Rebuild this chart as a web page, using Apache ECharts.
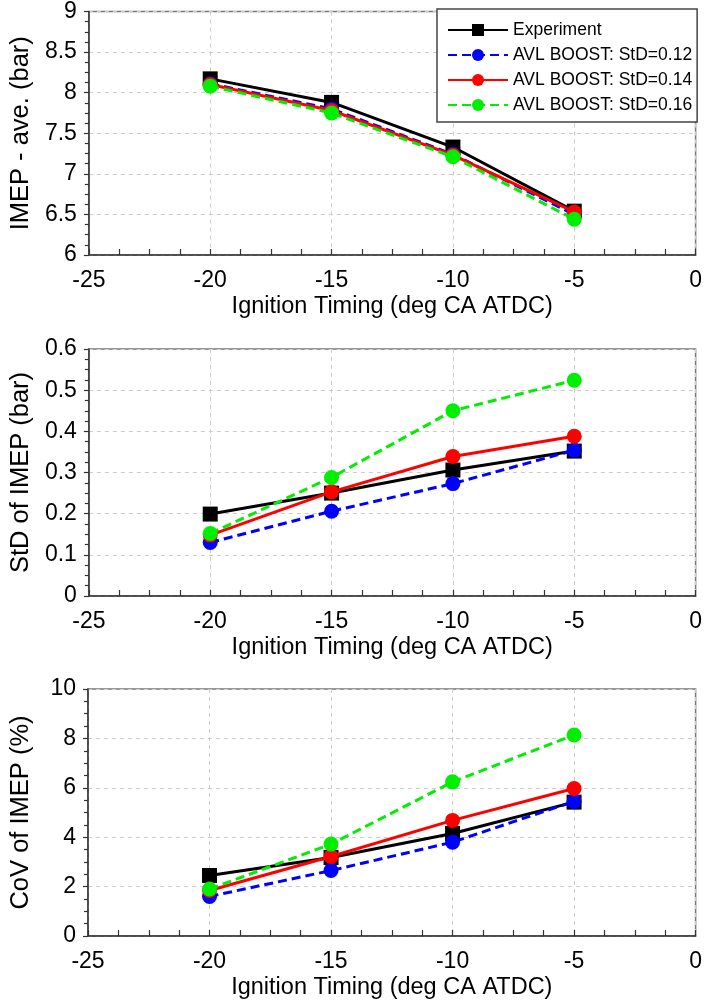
<!DOCTYPE html>
<html>
<head>
<meta charset="utf-8">
<script src="https://cdn.jsdelivr.net/npm/echarts@6/dist/echarts.min.js"></script>
<style>html,body{margin:0;padding:0;background:#fff;}#c{width:705px;height:1001px;}</style>
</head>
<body>
<div id="c"></div>
<script>
const timing = [-20, -15, -10, -5];
const seriesNames = ['Experiment', 'AVL BOOST: StD=0.12', 'AVL BOOST: StD=0.14', 'AVL BOOST: StD=0.16'];

// IMEP average (bar)
const imepExp  = [8.17, 7.88, 7.33, 6.54];
const imep012  = [8.11, 7.80, 7.24, 6.50];
const imep014  = [8.10, 7.78, 7.23, 6.53];
const imep016  = [8.08, 7.75, 7.21, 6.44];

// StD of IMEP (bar)
const stdExp = [0.199, 0.250, 0.306, 0.352];
const std012 = [0.130, 0.206, 0.273, 0.354];
const std014 = [0.148, 0.253, 0.339, 0.388];
const std016 = [0.152, 0.288, 0.450, 0.524];

// CoV of IMEP (%)
const covExp = [2.45, 3.18, 4.15, 5.42];
const cov012 = [1.60, 2.65, 3.80, 5.45];
const cov014 = [1.84, 3.22, 4.68, 5.97];
const cov016 = [1.90, 3.72, 6.24, 8.14];

const xTicks = [-25, -20, -15, -10, -5, 0];
const yTitles = ['IMEP - ave. (bar)', 'StD of IMEP (bar)', 'CoV of IMEP (%)'];
const xTitle = 'Ignition Timing (deg CA ATDC)';

const FONT = 'Liberation Sans, Arial, sans-serif';
const styles = [
  {color: '#000000', symbol: 'rect', line: 'solid', size: 15},
  {color: '#0000ff', symbol: 'circle', line: [9, 5], size: 15},
  {color: '#ff0000', symbol: 'circle', line: 'solid', size: 15},
  {color: '#00ee00', symbol: 'circle', line: [9, 5], size: 15}
];
const panels = [
  {data: [imepExp, imep012, imep014, imep016], min: 6, max: 9, interval: 0.5, top: 8},
  {data: [stdExp, std012, std014, std016], min: 0, max: 0.6, interval: 0.1, top: 349},
  {data: [covExp, cov012, cov014, cov016], min: 0, max: 10, interval: 2, top: 689}
];

const grids = [], xAxes = [], yAxes = [], series = [];
panels.forEach((p, i) => {
  grids.push({left: 83, right: 6, top: p.top, height: 247, show: true, borderColor: '#777', borderWidth: 1.5, backgroundColor: 'transparent'});
  xAxes.push({
    type: 'value', gridIndex: i, min: xTicks[0], max: xTicks[xTicks.length - 1], interval: 5,
    name: xTitle, nameLocation: 'middle', nameGap: 40,
    nameTextStyle: {fontFamily: FONT, fontSize: 23.5, color: '#000'},
    axisLine: {show: true, onZero: false, lineStyle: {color: '#333', width: 1.5}},
    axisTick: {show: true, inside: true, length: 6, lineStyle: {color: '#333', width: 1.2}},
    minorTick: {show: true, splitNumber: 4, length: 6, lineStyle: {color: '#333', width: 1.2}},
    axisLabel: {fontFamily: FONT, fontSize: 23, color: '#000', margin: 14},
    splitLine: {show: true, lineStyle: {color: '#cccccc', type: [4, 4], width: 1}}
  });
  yAxes.push({
    type: 'value', gridIndex: i, min: p.min, max: p.max, interval: p.interval,
    name: yTitles[i], nameLocation: 'middle', nameGap: 54,
    nameTextStyle: {fontFamily: FONT, fontSize: 25.5, color: '#000'},
    axisLine: {show: true, onZero: false, lineStyle: {color: '#333', width: 1.5}},
    axisTick: {show: true, inside: false, length: 5, lineStyle: {color: '#333', width: 1.2}},
    minorTick: {show: true, splitNumber: 4, length: 4, lineStyle: {color: '#333', width: 1.2}},
    axisLabel: {fontFamily: FONT, fontSize: 23, color: '#000', margin: 12},
    splitLine: {show: true, lineStyle: {color: '#cccccc', type: [4, 4], width: 1}}
  });
  p.data.forEach((vals, k) => {
    const s = styles[k];
    series.push({
      name: seriesNames[k], type: 'line', xAxisIndex: i, yAxisIndex: i,
      data: timing.map((t, j) => [t, vals[j]]),
      symbol: s.symbol, symbolSize: s.size, showSymbol: true,
      itemStyle: {color: s.color},
      lineStyle: {color: s.color, width: 3, type: s.line},
      z: 2 + k, animation: false
    });
  });
});

const chart = echarts.init(document.getElementById('c'), null, {renderer: 'canvas'});
chart.setOption({
  backgroundColor: '#ffffff',
  animation: false,
  legend: {
    data: seriesNames, orient: 'vertical', left: 437, top: 9,
    itemWidth: 60, itemHeight: 15, itemGap: 7,
    padding: [12, 5, 8, 10],
    borderColor: '#444', borderWidth: 1.5, backgroundColor: '#fff',
    textStyle: {fontFamily: FONT, fontSize: 17.5, color: '#000'}
  },
  grid: grids, xAxis: xAxes, yAxis: yAxes, series: series
});
</script>
</body>
</html>
